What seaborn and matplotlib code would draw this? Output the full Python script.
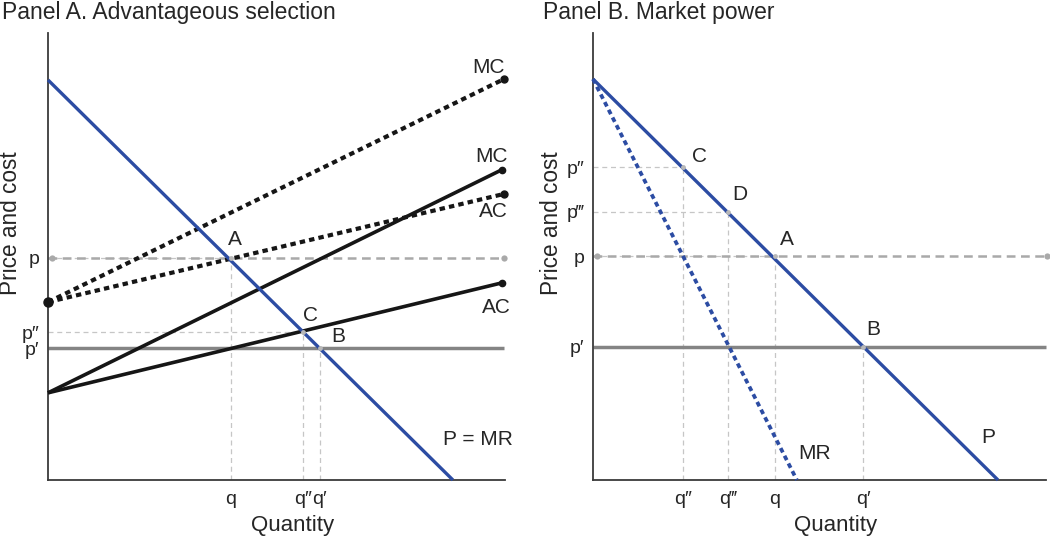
import numpy as np
import pandas as pd
import matplotlib
matplotlib.use("Agg")
import matplotlib.pyplot as plt
import seaborn as sns

sns.set_theme(style="white")
plt.rcParams['font.family'] = ['Liberation Sans', 'DejaVu Sans']

# ---------------- Data (Panel A: advantageous selection) ----------------
a_demand_x = [0.0, 8.86]
a_demand_y = [8.95, 0.0]
a_mc_dot_x = [0.0, 9.98]
a_mc_dot_y = [3.98, 8.97]
a_ac_dot_x = [0.0, 9.98]
a_ac_dot_y = [3.98, 6.40]
a_mc_sol_x = [0.0, 9.93]
a_mc_sol_y = [1.95, 6.94]
a_ac_sol_x = [0.0, 9.93]
a_ac_sol_y = [1.95, 4.41]
a_p_levels = [4.97, 3.31, 2.95]          # p, p'', p'
a_p_labels = ["p", "p\u2033", "p\u2032"]
a_q_levels = [4.00, 5.58, 5.95]          # q, q'', q'
a_q_labels = ["q", "q\u2033", "q\u2032"]
a_points = ["A", "C", "B"]

# ---------------- Data (Panel B: market power) ----------------
b_demand_x = [0.0, 8.94]
b_demand_y = [8.97, 0.0]
b_mr_x = [0.0, 4.50]
b_mr_y = [8.97, 0.0]
b_p_levels = [7.00, 6.00, 5.01, 2.98]    # p'', p''', p, p'
b_p_labels = ["p\u2033", "p\u2034", "p", "p\u2032"]
b_q_levels = [1.99, 2.98, 4.02, 5.96]    # q'', q''', q, q'
b_q_labels = ["q\u2033", "q\u2034", "q", "q\u2032"]
b_points = ["C", "D", "A", "B"]

BLUE = "#2c4ca3"
BLACK = "#161616"
GRAY = "#848484"
LGRAY = "#a9a9a9"
GUIDE = "#c6c6c6"

W, H = 1050, 541
fig = plt.figure(figsize=(W / 100, H / 100), dpi=100)
axA = fig.add_axes([48 / W, 61 / H, 457 / W, 447 / H])
axB = fig.add_axes([593 / W, 61 / H, 453 / W, 447 / H])


def line(ax, x, y, color, lw, dashes=None, zorder=3):
    df = pd.DataFrame({"x": x, "y": y})
    sns.lineplot(data=df, x="x", y="y", ax=ax, color=color, linewidth=lw,
                 estimator=None, sort=False, zorder=zorder)
    ln = ax.get_lines()[-1]
    ln.set_clip_on(False)
    ln.set_solid_capstyle("butt")
    if dashes is not None:
        ln.set_dashes(dashes)
        ln.set_dash_capstyle("butt")
    return ln


def guides(ax, xs, ys):
    for xv, yv in zip(xs, ys):
        ax.plot([0, xv], [yv, yv], color=GUIDE, lw=0.9, ls=(0, (4, 3)), zorder=1)
        ax.plot([xv, xv], [0, yv], color=GUIDE, lw=0.9, ls=(0, (4, 3)), zorder=1)
        ax.plot([xv], [yv], marker="o", ms=3.5, color="#b8b8b8", zorder=5,
                markeredgewidth=0)


def style(ax, xt, xl, yt, yl):
    ax.set_xlim(0, 10)
    ax.set_ylim(0, 10)
    ax.set_xticks(xt)
    ax.set_xticklabels(xl, fontsize=14)
    ax.set_yticks(yt)
    ax.set_yticklabels(yl, fontsize=14)
    ax.tick_params(length=0, pad=6)
    ax.tick_params(axis="x", pad=8)
    for s in ["top", "right"]:
        ax.spines[s].set_visible(False)
    for s in ["left", "bottom"]:
        ax.spines[s].set_color("#3a3a3a")
        ax.spines[s].set_linewidth(1.3)
    ax.set_xlabel("")
    ax.set_ylabel("")
    ax.set_facecolor("none")


# ---------------- Panel A ----------------
ax = axA
line(ax, [0, 9.98], [a_p_levels[0]] * 2, LGRAY, 1.8, dashes=(3.5, 2.2), zorder=2)
ax.plot([0.08, 9.98], [a_p_levels[0]] * 2, "o", ms=4.5, color=LGRAY, mec="none",
        clip_on=False, zorder=2)
line(ax, [0, 9.98], [a_p_levels[2]] * 2, GRAY, 2.5, zorder=2)
guides(ax, a_q_levels, [a_p_levels[0], a_p_levels[1], a_p_levels[2]])
line(ax, a_mc_dot_x, a_mc_dot_y, BLACK, 3.0, dashes=(1.3, 1.0))
line(ax, a_ac_dot_x, a_ac_dot_y, BLACK, 3.0, dashes=(1.3, 1.0))
ax.plot([a_mc_dot_x[1], a_ac_dot_x[1]], [a_mc_dot_y[1], a_ac_dot_y[1]], "o", ms=5,
        color=BLACK, clip_on=False, zorder=4)
ax.plot([0], [a_mc_dot_y[0]], "o", ms=6.5, color=BLACK, clip_on=False, zorder=4)
line(ax, a_mc_sol_x, a_mc_sol_y, BLACK, 2.6)
line(ax, a_ac_sol_x, a_ac_sol_y, BLACK, 2.6)
ax.plot([a_mc_sol_x[1], a_ac_sol_x[1]], [a_mc_sol_y[1], a_ac_sol_y[1]], "o", ms=4.5,
        color=BLACK, clip_on=False, zorder=4)
line(ax, a_demand_x, a_demand_y, BLUE, 2.4, zorder=4)
style(ax, a_q_levels, a_q_labels, a_p_levels, a_p_labels)

fs = 15
ax.text(9.63, 9.22, "MC", fontsize=fs, ha="center", va="center")
ax.text(9.71, 7.23, "MC", fontsize=fs, ha="center", va="center")
ax.text(9.75, 6.00, "AC", fontsize=fs, ha="center", va="center")
ax.text(9.82, 3.87, "AC", fontsize=fs, ha="center", va="center")
ax.text(8.64, 0.90, "P = MR", fontsize=fs, ha="left", va="center", clip_on=False)
ax.text(4.09, 5.37, "A", fontsize=fs, ha="center", va="center")
ax.text(5.75, 3.67, "C", fontsize=fs, ha="center", va="center")
ax.text(6.35, 3.20, "B", fontsize=fs, ha="center", va="center")

# ---------------- Panel B ----------------
ax = axB
line(ax, [0, 10], [b_p_levels[2]] * 2, LGRAY, 1.8, dashes=(3.5, 2.2), zorder=2)
ax.plot([0.08, 10.02], [b_p_levels[2]] * 2, "o", ms=4.5, color=LGRAY, mec="none",
        clip_on=False, zorder=2)
line(ax, [0, 10], [b_p_levels[3]] * 2, GRAY, 2.5, zorder=2)
guides(ax, b_q_levels, b_p_levels)
line(ax, b_mr_x, b_mr_y, BLUE, 2.7, dashes=(1.3, 1.0), zorder=4)
line(ax, b_demand_x, b_demand_y, BLUE, 2.4, zorder=4)
style(ax, b_q_levels, b_q_labels, b_p_levels, b_p_labels)

ax.text(2.34, 7.23, "C", fontsize=fs, ha="center", va="center")
ax.text(3.25, 6.38, "D", fontsize=fs, ha="center", va="center")
ax.text(4.28, 5.39, "A", fontsize=fs, ha="center", va="center")
ax.text(6.18, 3.36, "B", fontsize=fs, ha="center", va="center")
ax.text(4.88, 0.60, "MR", fontsize=fs, ha="center", va="center")
ax.text(8.72, 0.94, "P", fontsize=fs, ha="center", va="center")

# ---------------- Titles and axis labels ----------------
fig.text(2 / W, 1 - 13 / H, "Panel A. Advantageous selection", fontsize=16.5,
         ha="left", va="center")
fig.text(543 / W, 1 - 13 / H, "Panel B. Market power", fontsize=16.5,
         ha="left", va="center")
fig.text(11 / W, 1 - 223 / H, "Price and cost", fontsize=16.3, rotation=90,
         ha="center", va="center")
fig.text(551 / W, 1 - 223 / H, "Price and cost", fontsize=16.3, rotation=90,
         ha="center", va="center")
fig.text(293 / W, 1 - 525 / H, "Quantity", fontsize=16, ha="center", va="center")
fig.text(836 / W, 1 - 525 / H, "Quantity", fontsize=16, ha="center", va="center")

fig.savefig("out.png", dpi=100, facecolor="white")
